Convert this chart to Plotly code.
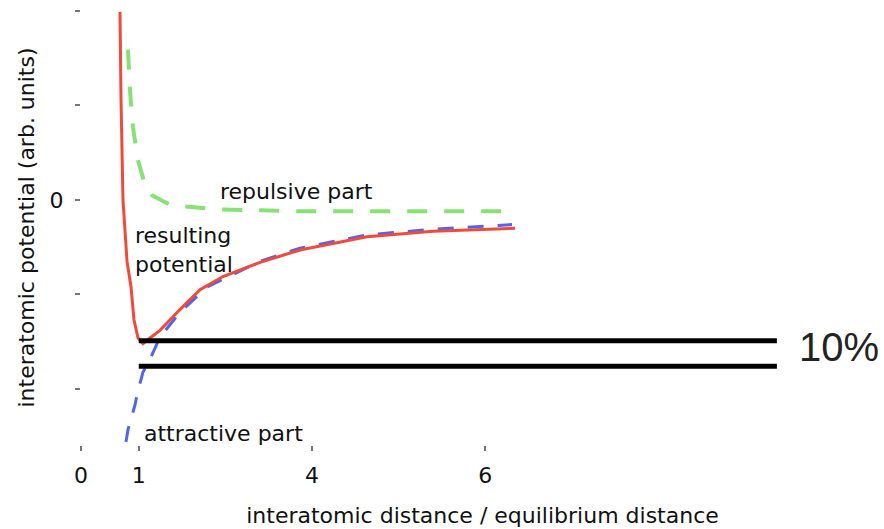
import plotly.graph_objects as go

# ---- data (x: interatomic distance / equilibrium distance, y: potential, arb. units)
res_x = [0.675, 0.693, 0.727, 0.762, 0.797, 0.866, 0.918, 0.987, 1.074, 1.195, 1.368, 1.714,
         2.061, 2.459, 3.100, 3.792, 4.952, 6.095, 7.515]
res_y = [1.99, 1.06, 0.0, -0.38, -0.65, -0.92, -1.27, -1.46, -1.52, -1.46, -1.38, -1.16,
         -0.95, -0.81, -0.66, -0.53, -0.39, -0.33, -0.30]

att_x = [0.779, 0.814, 0.935, 0.970, 1.074, 1.177, 1.368, 1.714, 2.182, 3.100, 3.792,
         4.952, 6.095, 7.463]
att_y = [-2.56, -2.43, -2.17, -2.06, -1.82, -1.71, -1.45, -1.19, -0.92, -0.65, -0.51,
         -0.37, -0.31, -0.26]

rep_x = [0.814, 0.848, 0.900, 0.987, 1.108, 1.229, 1.541, 1.801, 2.355, 3.792, 7.550]
rep_y = [1.59, 1.16, 0.77, 0.42, 0.16, 0.05, -0.05, -0.07, -0.10, -0.12, -0.12]

x_tickvals = [0, 1, 4, 7]
x_ticktext = ["0", "1", "4", "6"]
y_tickvals = [2, 1, 0, -1, -2]
y_ticktext = ["", "", "0", "", ""]

band_y = [-1.49, -1.76]      # the two black marker lines
band_x = [1.0, 12.05]
band_label = "10%"

x_range = [0, 13.905]
y_range = [-2.593, 2.01]

FONT = "DejaVu Sans"
TXT = "#111111"

fig = go.Figure()
fig.add_trace(go.Scatter(x=rep_x, y=rep_y, mode="lines",
                         line=dict(color="#86e373", width=4, dash="20px,17px"),
                         name="repulsive part", hoverinfo="skip"))
fig.add_trace(go.Scatter(x=att_x, y=att_y, mode="lines",
                         line=dict(color="#4f63f5", width=3, dash="16px,14px"),
                         name="attractive part", hoverinfo="skip"))
fig.add_trace(go.Scatter(x=res_x, y=res_y, mode="lines",
                         line=dict(color="#f04a3a", width=3),
                         name="resulting potential", hoverinfo="skip"))

for yv in band_y:
    fig.add_shape(type="line", x0=band_x[0], x1=band_x[1], y0=yv, y1=yv,
                  xref="x", yref="y", line=dict(color="black", width=5))

fig.add_annotation(x=13.13, y=-1.556, text=band_label,
                   showarrow=False, xanchor="center", yanchor="middle",
                   font=dict(family="Liberation Sans, Arial", size=40, color="#222222"))

fig.add_annotation(x=2.372, y=0.085, text="repulsive part", showarrow=False,
                   xanchor="left", yanchor="middle", font=dict(family=FONT, size=22, color=TXT))
fig.add_annotation(x=0.90, y=-0.53, text="resulting<br>potential", showarrow=False,
                   xanchor="left", yanchor="middle", align="left",
                   font=dict(family=FONT, size=22, color=TXT))
fig.add_annotation(x=1.056, y=-2.466, text="attractive part", showarrow=False,
                   xanchor="left", yanchor="middle", font=dict(family=FONT, size=22, color=TXT))

fig.update_layout(
    width=884, height=529,
    margin=dict(l=81, r=0, t=10, b=84, autoexpand=False),
    paper_bgcolor="white", plot_bgcolor="white",
    showlegend=False,
    font=dict(family=FONT, size=22, color=TXT),
)
fig.update_xaxes(range=x_range, showgrid=False, zeroline=False, showline=False,
                 automargin=False,
                 tickmode="array", tickvals=x_tickvals, ticktext=x_ticktext,
                 ticks="outside", ticklen=5, tickwidth=2, tickcolor="#777777",
                 ticklabelstandoff=6,
                 tickfont=dict(family=FONT, size=22, color=TXT),
                 title=dict(text="interatomic distance / equilibrium distance",
                            font=dict(family=FONT, size=22, color=TXT), standoff=20))
fig.update_yaxes(range=y_range, showgrid=False, zeroline=False, showline=False,
                 automargin=False,
                 tickmode="array", tickvals=y_tickvals, ticktext=y_ticktext,
                 ticks="outside", ticklen=5, tickwidth=2, tickcolor="#777777",
                 ticklabelstandoff=7,
                 tickfont=dict(family=FONT, size=22, color=TXT),
                 title=dict(text="interatomic potential (arb. units)",
                            font=dict(family=FONT, size=22, color=TXT), standoff=8))

fig.write_html("out.html",
               config={"displayModeBar": False},
               post_script="document.body.style.margin='0';document.body.style.overflow='hidden';")
